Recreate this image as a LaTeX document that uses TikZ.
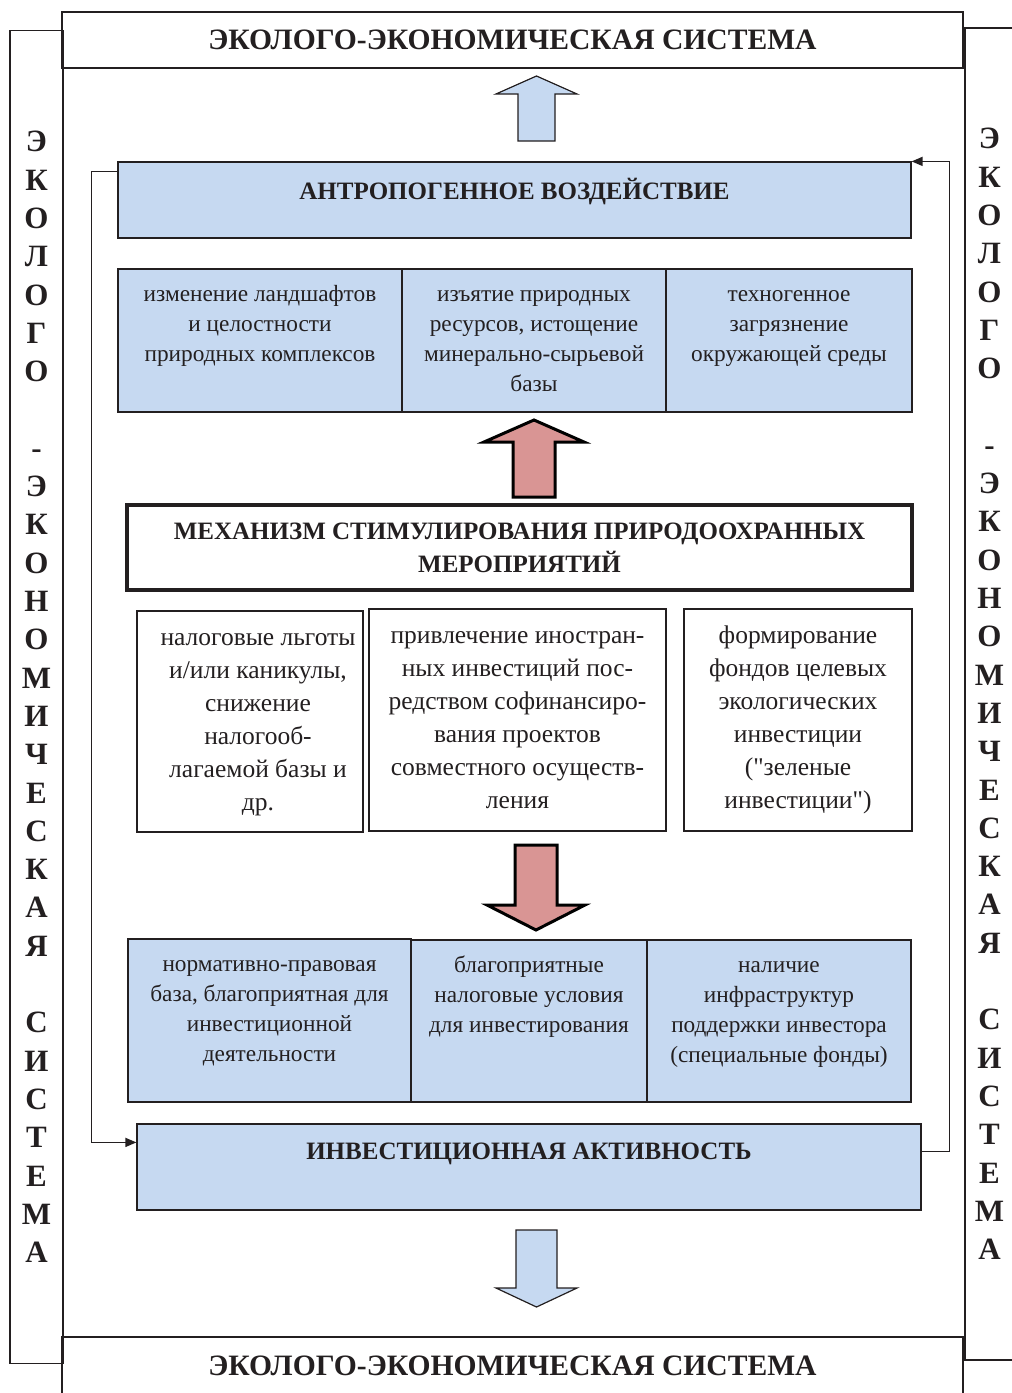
\documentclass[tikz,border=0pt]{standalone}
\usepackage{fontspec}
\setmainfont{Liberation Serif}[Ligatures=TeXOff]
\usetikzlibrary{arrows.meta}

\definecolor{goluboj}{HTML}{C6D9F1}
\definecolor{rozovyj}{HTML}{D99594}
\definecolor{kontur}{HTML}{231F20}

% kletka: shirina, vysota, otstup sverhu, tekst
\newcommand{\kletka}[4]{\parbox[c][#2][t]{#1}{\centering\vspace*{#3}\strut #4}}

\begin{document}
\begin{tikzpicture}[x=1pt, y=-1pt,
        blok/.style={draw=kontur, line width=1.2pt, inner sep=0pt, text=kontur},
        sinij/.style={blok, fill=goluboj},
        zag/.style={font=\fontsize{29.6}{35}\selectfont\bfseries},
        polu/.style={font=\fontsize{25}{33}\selectfont\bfseries},
        melk/.style={font=\fontsize{23.3}{30}\selectfont},
        sred/.style={font=\fontsize{25.5}{33}\selectfont},
        bukvy/.style={font=\fontsize{31}{38.3}\selectfont\bfseries, align=center},
        strelka/.style={draw=kontur, line width=1.2pt, fill=goluboj},
        krasnaja/.style={draw=black, line width=3pt, fill=rozovyj, line join=miter},
        svyaz/.style={draw=kontur, line width=1.5pt, -{Triangle[length=11pt,width=9pt]}},
    ]
    \useasboundingbox (0,0) rectangle (1012,1393);

    % ramka: eko-ekonomicheskaja sistema
    \node[blok, zag, minimum width=901, minimum height=56] (verh) at (512.5,40) {ЭКОЛОГО-ЭКОНОМИЧЕСКАЯ СИСТЕМА};
    \node[blok, zag, minimum width=901, minimum height=58] (niz) at (512.5,1366) {ЭКОЛОГО-ЭКОНОМИЧЕСКАЯ СИСТЕМА};
    \node[blok, bukvy, minimum width=53, minimum height=1333] (levaja) at (36.5,697) {Э\\К\\О\\Л\\О\\Г\\О\\[38.3pt]-\\Э\\К\\О\\Н\\О\\М\\И\\Ч\\Е\\С\\К\\А\\Я\\[38.3pt]С\\И\\С\\Т\\Е\\М\\А};
    \node[blok, bukvy, minimum width=49, minimum height=1332] (pravaja) at (989.5,694) {Э\\К\\О\\Л\\О\\Г\\О\\[38.3pt]-\\Э\\К\\О\\Н\\О\\М\\И\\Ч\\Е\\С\\К\\А\\Я\\[38.3pt]С\\И\\С\\Т\\Е\\М\\А};

    % antropogennoe vozdejstvie
    \node[sinij, polu] (antrop) at (514.5,200) {\kletka{793pt}{76pt}{14pt}{АНТРОПОГЕННОЕ ВОЗДЕЙСТВИЕ}};
    \node[sinij, melk] (izmen) at (260,340.5) {\kletka{284pt}{143pt}{11pt}{изменение ландшафтов\\и целостности\\природных комплексов}};
    \node[sinij, melk] (izjat) at (534,340.5) {\kletka{264pt}{143pt}{11pt}{изъятие природных\\ресурсов, истощение\\минерально-сырьевой\\базы}};
    \node[sinij, melk] (tehno) at (789,340.5) {\kletka{246pt}{143pt}{11pt}{техногенное\\загрязнение\\окружающей среды}};

    % mehanizm
    \node[blok, polu, line width=4pt, align=center, minimum width=785, minimum height=85] (mehan) at (519.5,547.5) {МЕХАНИЗМ СТИМУЛИРОВАНИЯ ПРИРОДООХРАННЫХ\\МЕРОПРИЯТИЙ};
    \node[blok, sred] (nalog) at (250,721.5) {\hspace*{16pt}\kletka{210pt}{221pt}{11pt}{налоговые льготы\\и/или каникулы,\\снижение\\налогооб-\\лагаемой базы и\\др.}};
    \node[blok, sred] (privl) at (517.5,720) {\kletka{297pt}{222pt}{11pt}{привлечение иностран-\\ных инвестиций пос-\\редством софинансиро-\\вания проектов\\совместного осуществ-\\ления}};
    \node[blok, sred] (fond) at (798,720) {\kletka{228pt}{222pt}{11pt}{формирование\\фондов целевых\\экологических\\инвестиции\\("зеленые\\инвестиции")}};

    % uslovija investirovanija
    \node[sinij, melk] (norm) at (269.5,1020.5) {\kletka{283pt}{163pt}{11pt}{нормативно-правовая\\база, благоприятная для\\инвестиционной\\деятельности}};
    \node[sinij, melk] (blago) at (529,1021) {\kletka{236pt}{162pt}{11pt}{благоприятные\\налоговые условия\\для инвестирования}};
    \node[sinij, melk] (nalich) at (779,1021) {\kletka{264pt}{162pt}{11pt}{наличие\\инфраструктур\\поддержки инвестора\\(специальные фонды)}};
    \node[sinij, polu] (invest) at (529,1167) {\kletka{784pt}{86pt}{12pt}{ИНВЕСТИЦИОННАЯ АКТИВНОСТЬ}};

    % blochnye strelki
    \draw[strelka] (518,141) -- (518,94) -- (496,94) -- (536.5,76) -- (577,94) -- (555,94) -- (555,141) -- cycle;
    \draw[krasnaja] (513,497) -- (513,442) -- (484,442) -- (534,420) -- (584,442) -- (555,442) -- (555,497) -- cycle;
    \draw[krasnaja] (515,845) -- (515,905) -- (487,905) -- (536,930) -- (585,905) -- (557,905) -- (557,845) -- cycle;
    \draw[strelka] (516,1230) -- (516,1288) -- (496,1288) -- (536.5,1307) -- (577,1288) -- (557,1288) -- (557,1230) -- cycle;

    % obratnye svjazi
    \draw[svyaz] ([yshift=-10pt]antrop.north west) -- ++(-26,0) |- ([yshift=-19pt]invest.north west);
    \draw[svyaz] ([yshift=-28pt]invest.north east) -- ++(28,0) |- (antrop.north east);

\end{tikzpicture}
\end{document}
